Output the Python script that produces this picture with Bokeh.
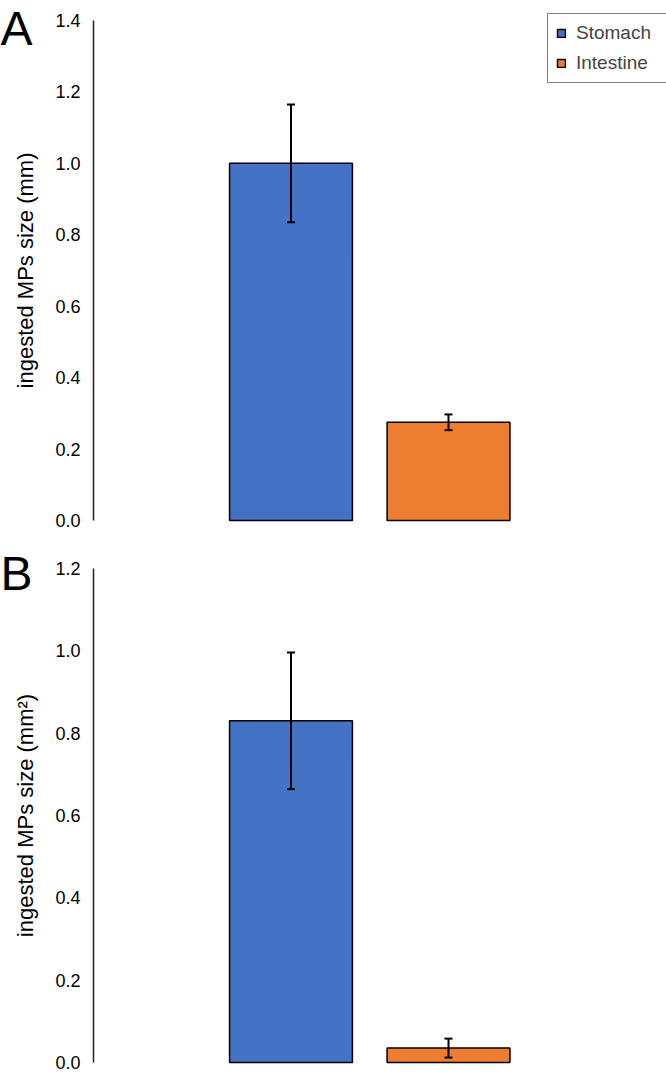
from bokeh.plotting import figure
from bokeh.models import (ColumnDataSource, Range1d, FixedTicker, PrintfTickFormatter,
                          Whisker, TeeHead, Legend, LegendItem, Label)
from bokeh.layouts import column
from bokeh.embed import file_html
from bokeh.resources import INLINE

# ---- data ----
organs = ["Stomach", "Intestine"]
colors = ["#4472C4", "#ED7D31"]
length_mean = [1.00, 0.275]
length_err = [0.165, 0.022]
area_mean = [0.83, 0.035]
area_err = [0.166, 0.023]
ticks_a = [0.0, 0.2, 0.4, 0.6, 0.8, 1.0, 1.2, 1.4]
ticks_b = [0.0, 0.2, 0.4, 0.6, 0.8, 1.0, 1.2]
label_a = "ingested MPs size (mm)"
label_b = "ingested MPs size (mm\u00b2)"

FONT = "Liberation Sans"

# layout constants (screen layout, not data)
X_LEFT, X_RIGHT = -0.8444, 3.3841   # canvas edges in x units
AXIS_X = -0.254                      # where the y axis is drawn


def make_panel(means, errs, ticks, ylabel, letter, letter_size, letter_y,
               height, y_start, y_end, with_legend):
    xs = [i + 1 for i in range(len(organs))]
    src = ColumnDataSource(dict(
        x=xs, top=means, color=colors, organ=organs,
        upper=[m + e for m, e in zip(means, errs)],
        lower=[m - e for m, e in zip(means, errs)],
    ))
    p = figure(width=666, height=height, output_backend="svg", toolbar_location=None,
               x_range=Range1d(X_LEFT, X_RIGHT), y_range=Range1d(y_start, y_end),
               x_axis_location=None, min_border_left=0, min_border_right=0,
               min_border_top=0, min_border_bottom=0)
    p.outline_line_color = None
    p.grid.visible = False
    p.background_fill_color = "white"
    p.border_fill_color = "white"

    r = p.vbar(x="x", top="top", bottom=0, width=0.78, source=src,
               fill_color="color", line_color="black", line_width=1.5)

    w = Whisker(base="x", upper="upper", lower="lower", source=src, dimension="height",
                line_color="black", line_width=2, level="overlay",
                upper_head=TeeHead(size=8, line_width=2, line_color="black"),
                lower_head=TeeHead(size=8, line_width=2, line_color="black"))
    p.add_layout(w)

    ax = p.yaxis[0]
    ax.fixed_location = AXIS_X
    ax.bounds = (ticks[0], ticks[-1])
    ax.ticker = FixedTicker(ticks=ticks)
    ax.formatter = PrintfTickFormatter(format="%.1f")
    ax.major_tick_line_color = None
    ax.minor_tick_line_color = None
    ax.major_tick_out = 0
    ax.major_tick_in = 0
    ax.major_label_standoff = 13
    ax.major_label_text_font = FONT
    ax.major_label_text_font_size = "18px"
    ax.major_label_text_color = "black"
    ax.axis_line_color = "#222222"
    ax.axis_line_width = 1.5
    ax.axis_label = ylabel
    ax.axis_label_text_font = FONT
    ax.axis_label_text_font_size = "22px"
    ax.axis_label_text_font_style = "normal"
    ax.axis_label_text_color = "black"
    ax.axis_label_standoff = 14

    # panel letter
    p.add_layout(Label(x=X_LEFT, y=letter_y, text=letter, level="overlay",
                       text_font=FONT, text_font_size=letter_size,
                       text_baseline="alphabetic", text_color="black"))

    if with_legend:
        items = [LegendItem(label=o, renderers=[r], index=i) for i, o in enumerate(organs)]
        leg = Legend(items=items, location=(547, 457), border_line_color="black",
                     border_line_width=1.5, background_fill_alpha=1.0,
                     label_text_font=FONT, label_text_font_size="19px",
                     glyph_width=10, glyph_height=10, label_standoff=10,
                     label_height=19, label_width=82, spacing=8, padding=8, margin=0)
        p.add_layout(leg)
    return p


pA = make_panel(length_mean, length_err, ticks_a, label_a, "A", "48px", 1.3785,
                540, -0.056, 1.456, True)
pB = make_panel(area_mean, area_err, ticks_b, label_b, "B", "48px", 1.1878,
                533, -0.0267, 1.268, False)

layout = column(pA, pB)
open("out.html", "w").write(file_html(layout, INLINE))
